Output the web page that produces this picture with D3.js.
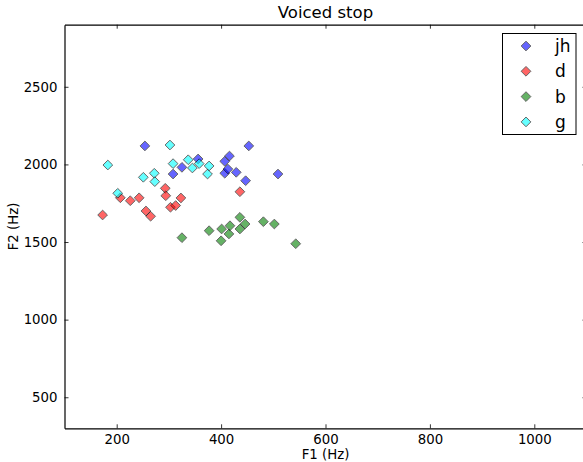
<!DOCTYPE html>
<html>
<head>
<meta charset="utf-8">
<script src="https://cdn.jsdelivr.net/npm/d3@7"></script>
<style>
  body { margin: 0; background: #fff; }
  svg { display: block; font-family: "DejaVu Sans", sans-serif; }
</style>
</head>
<body>
<svg id="chart" width="583" height="462"></svg>
<script>
// Formant measurements (F1, F2 in Hz) for voiced stops
const seriesNames = ["jh", "d", "b", "g"];
const seriesColors = ["#0000ff", "#ff0000", "#008000", "#00ffff"];

const jhF1 = [254, 308, 325, 356, 407, 416, 407, 413, 429, 453, 447, 509];
const jhF2 = [2119, 1938, 1981, 2035, 2020, 2054, 1943, 1970, 1949, 2119, 1895, 1938];

const dF1 = [173, 207, 226, 243, 256, 265, 293, 294, 323, 303, 313, 436];
const dF2 = [1674, 1785, 1766, 1785, 1700, 1666, 1846, 1798, 1784, 1724, 1735, 1824];

const bF1 = [325, 377, 400, 401, 415, 417, 436, 436, 446, 481, 502, 543];
const bF2 = [1528, 1573, 1508, 1584, 1552, 1605, 1659, 1584, 1616, 1631, 1616, 1489];

const gF1 = [183, 302, 308, 337, 345, 358, 377, 374, 251, 272, 273, 202];
const gF2 = [1996, 2125, 2005, 2030, 1977, 2005, 1990, 1938, 1917, 1943, 1889, 1814];

const xTicks = [200, 400, 600, 800, 1000];
const yTicks = [500, 1000, 1500, 2000, 2500];

const svg = d3.select("#chart");
const margin = { left: 64.5, right: 586.5, top: 24.7, bottom: 428.3 };

const x = d3.scaleLinear().domain([100, 1100]).range([margin.left, margin.right]);
const y = d3.scaleLinear().domain([300, 2900]).range([margin.bottom, margin.top]);

const series = [
  { name: seriesNames[0], color: seriesColors[0], f1: jhF1, f2: jhF2 },
  { name: seriesNames[1], color: seriesColors[1], f1: dF1, f2: dF2 },
  { name: seriesNames[2], color: seriesColors[2], f1: bF1, f2: bF2 },
  { name: seriesNames[3], color: seriesColors[3], f1: gF1, f2: gF2 }
];

const diamond = d3.symbol().type(d3.symbolDiamond2).size(60);
const plain = d3.format("d");

// Axes frame with inward ticks on all four sides
const tickLen = 4;
const axisColor = "#000";
const gAxes = svg.append("g");

const bottomAxis = d3.axisBottom(x).tickValues(xTicks).tickFormat(plain).tickSizeInner(-tickLen).tickSizeOuter(0).tickPadding(6);
const topAxis = d3.axisTop(x).tickValues(xTicks).tickSizeInner(-tickLen).tickSizeOuter(0).tickFormat("");
const leftAxis = d3.axisLeft(y).tickValues(yTicks).tickFormat(plain).tickSizeInner(-tickLen).tickSizeOuter(0).tickPadding(7);
const rightAxis = d3.axisRight(y).tickValues(yTicks).tickSizeInner(-tickLen).tickSizeOuter(0).tickFormat("");

gAxes.append("g").attr("transform", `translate(0,${margin.bottom})`).call(bottomAxis);
gAxes.append("g").attr("transform", `translate(0,${margin.top})`).call(topAxis);
gAxes.append("g").attr("transform", `translate(${margin.left},0)`).call(leftAxis);
gAxes.append("g").attr("transform", `translate(${margin.right},0)`).call(rightAxis);

gAxes.selectAll(".domain").attr("stroke", axisColor).attr("stroke-width", 1.2);
gAxes.selectAll(".tick line").attr("stroke", axisColor).attr("stroke-width", 0.8);
gAxes.selectAll(".tick text")
  .attr("font-family", "DejaVu Sans, sans-serif")
  .attr("font-size", 13.3)
  .attr("fill", "#000");

// Points
const gPts = svg.append("g");
series.forEach(s => {
  gPts.selectAll(null)
    .data(s.f1.map((v, i) => [v, s.f2[i]]))
    .enter()
    .append("path")
    .attr("d", diamond)
    .attr("transform", d => `translate(${x(d[0])},${y(d[1])})`)
    .attr("fill", s.color)
    .attr("stroke", "#000")
    .attr("stroke-width", 1)
    .attr("opacity", 0.6);
});

// Title and axis labels
svg.append("text")
  .attr("x", (margin.left + margin.right) / 2)
  .attr("y", 18)
  .attr("text-anchor", "middle")
  .attr("font-size", 16.5)
  .text("Voiced stop");

svg.append("text")
  .attr("x", (margin.left + margin.right) / 2)
  .attr("y", 458.5)
  .attr("text-anchor", "middle")
  .attr("font-size", 13.3)
  .text("F1 (Hz)");

svg.append("text")
  .attr("transform", `translate(18,${(margin.top + margin.bottom) / 2}) rotate(-90)`)
  .attr("text-anchor", "middle")
  .attr("font-size", 13.3)
  .text("F2 (Hz)");

// Legend
const legend = svg.append("g");
legend.append("rect")
  .attr("x", 502.5).attr("y", 33.5)
  .attr("width", 73.5).attr("height", 101)
  .attr("fill", "#fff")
  .attr("stroke", "#000")
  .attr("stroke-width", 1);

series.forEach((s, i) => {
  const cy = 46 + i * 25.3;
  legend.append("path")
    .attr("d", diamond)
    .attr("transform", `translate(526,${cy})`)
    .attr("fill", s.color)
    .attr("stroke", "#000")
    .attr("stroke-width", 1)
    .attr("opacity", 0.6);
  legend.append("text")
    .attr("x", 555)
    .attr("y", cy + 6)
    .attr("font-size", 17)
    .text(s.name);
});
</script>
</body>
</html>
